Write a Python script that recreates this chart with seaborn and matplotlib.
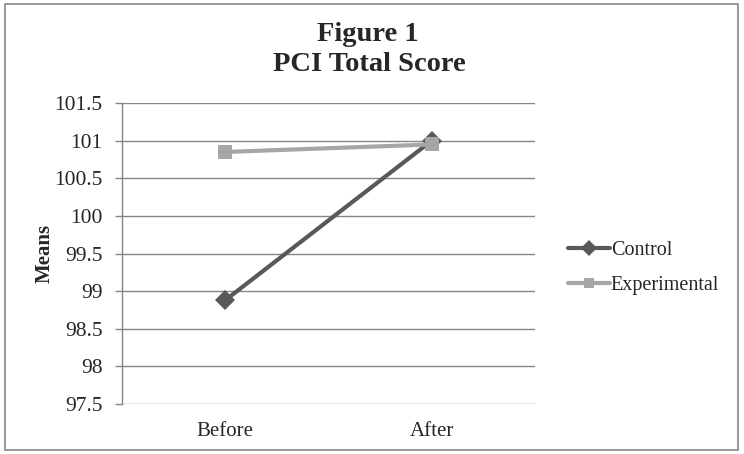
import matplotlib
matplotlib.use("Agg")
import matplotlib.pyplot as plt
import seaborn as sns
import pandas as pd
from matplotlib.patches import Rectangle

categories = ["Before", "After"]
control = [98.88, 101.0]
experimental = [100.85, 100.95]
series_names = ["Control", "Experimental"]
yticks = [97.5, 98, 98.5, 99, 99.5, 100, 100.5, 101, 101.5]
ytick_labels = ["97.5", "98", "98.5", "99", "99.5", "100", "100.5", "101", "101.5"]

sns.set_style("white")
plt.rcParams["font.family"] = ["Liberation Serif", "DejaVu Serif"]
plt.rcParams["font.serif"] = ["Liberation Serif", "DejaVu Serif"]

df = pd.DataFrame({
    "Time": categories * 2,
    "Mean": control + experimental,
    "Group": [series_names[0]] * 2 + [series_names[1]] * 2,
})

fig = plt.figure(figsize=(7.44, 4.54), dpi=100)
ax = fig.add_axes([0.164, 0.110, 0.555, 0.663])

sns.lineplot(data=df, x="Time", y="Mean", hue="Group", style="Group",
             markers={"Control": "D", "Experimental": "s"}, dashes=False,
             palette={"Control": "#595959", "Experimental": "#A6A6A6"},
             linewidth=3, markersize=10.5, markeredgewidth=0, ax=ax, sort=False)

ax.set_xlim(-0.5, 1.5)
ax.set_ylim(97.5, 101.5)
ax.set_yticks(yticks)
ax.set_yticklabels(ytick_labels, fontsize=15.5, fontfamily="Liberation Serif")
for lbl in ax.get_xticklabels():
    lbl.set_fontfamily("Liberation Serif")
ax.tick_params(axis="x", labelsize=15, length=0, pad=13)
ax.tick_params(axis="y", length=5, width=1, color="#868686", left=True, pad=9)
ax.grid(axis="y", color="#868686", linewidth=1)
ax.set_axisbelow(True)
for s in ["top", "right", "bottom"]:
    ax.spines[s].set_visible(False)
ax.spines["left"].set_color("#868686")
ax.spines["left"].set_linewidth(1)
ax.set_xlabel("")
ax.set_ylabel("Means", fontsize=15, fontweight="bold", labelpad=0)

leg = ax.legend(loc="center left", bbox_to_anchor=(1.035, 0.453), frameon=False,
                fontsize=14.5, handlelength=2.1, handletextpad=0.05, labelspacing=0.8,
                markerscale=0.75)

fig.text(0.495, 0.925, "Figure 1", ha="center", va="center", fontsize=20.5, fontweight="bold")
fig.text(0.497, 0.859, "PCI Total Score", ha="center", va="center", fontsize=20.5, fontweight="bold")

fig.patches.append(Rectangle((0.007, 0.009), 0.985, 0.982, transform=fig.transFigure,
                             fill=False, edgecolor="#868686", linewidth=1.2))

fig.savefig("out.png", dpi=100)
